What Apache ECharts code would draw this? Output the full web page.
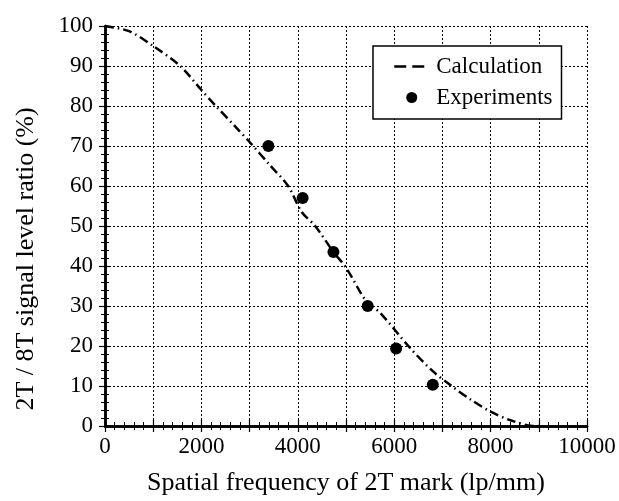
<!DOCTYPE html>
<html>
<head>
<meta charset="utf-8">
<script src="https://cdn.jsdelivr.net/npm/echarts@6/dist/echarts.min.js"></script>
<style>html,body{margin:0;padding:0;background:#fff}#c{width:619px;height:501px}</style>
</head>
<body>
<div id="c"></div>
<script>
const calcX = [0, 500, 1000, 1560, 2000, 2300, 2700, 3000, 3400, 3800, 4080, 4360, 4740, 5000, 5430, 5700, 6330, 6800, 7190, 7600, 8000, 8400, 8900, 9000];
const calcY = [100, 98.7, 95, 90, 84, 80, 74.9, 71, 65.5, 60, 53.5, 50, 43.5, 39.6, 31, 28.4, 19.5, 13.7, 10, 6.5, 3.6, 1.5, 0, 0];
const expX = [3390, 4100, 4740, 5450, 6040, 6800];
const expY = [70, 57, 43.5, 30, 19.4, 10.3];
const xTicks = [0, 2000, 4000, 6000, 8000, 10000];
const yTicks = [0, 10, 20, 30, 40, 50, 60, 70, 80, 90, 100];

const font = 'Liberation Serif';
const chart = echarts.init(document.getElementById('c'));
const frame = {show: true, lineStyle: {color: '#000', width: 2.5}};
const ticks = {show: true, inside: true, length: 6, lineStyle: {color: '#000', width: 1.2}};
const minor = {show: true, splitNumber: 5, length: 4, lineStyle: {color: '#000', width: 1}};
const grid = {show: true, lineStyle: {color: '#000', width: 1, type: [2, 2]}};
chart.setOption({
  animation: false,
  backgroundColor: '#fff',
  grid: {left: 105, right: 32, top: 26, bottom: 74},
  legend: {
    orient: 'vertical', left: 373, top: 46,
    backgroundColor: '#fff', borderColor: '#000', borderWidth: 1.5,
    padding: [8, 9, 9, 20], itemGap: 6, itemWidth: 35, itemHeight: 11,
    textStyle: {fontFamily: font, fontSize: 23, color: '#000', lineHeight: 25, padding: [0, 0, 0, 2]},
    data: [
      {name: 'Calculation', itemStyle: {opacity: 0}, lineStyle: {type: [12, 6], width: 2.5, color: '#000', opacity: 1}},
      {name: 'Experiments', icon: 'circle', itemStyle: {color: '#000', opacity: 1}}
    ]
  },
  xAxis: [{
    type: 'value', min: 0, max: 10000, interval: 1000, position: 'bottom',
    name: 'Spatial frequency of 2T mark (lp/mm)', nameLocation: 'middle', nameGap: 44,
    nameTextStyle: {fontFamily: font, fontSize: 26, color: '#000'},
    axisLine: frame, axisTick: ticks, minorTick: minor, splitLine: grid,
    axisLabel: {fontFamily: font, fontSize: 23, color: '#000', margin: 9,
      formatter: v => xTicks.includes(v) ? String(v) : ''}
  }, {
    type: 'value', min: 0, max: 10000, interval: 1000, position: 'top',
    axisLine: frame, axisTick: ticks, minorTick: minor, splitLine: {show: false},
    axisLabel: {show: false}
  }],
  yAxis: [{
    type: 'value', min: 0, max: 100, interval: 10, position: 'left',
    name: '2T / 8T signal level ratio (%)', nameLocation: 'middle', nameGap: 66,
    nameTextStyle: {fontFamily: font, fontSize: 26, color: '#000', padding: [0, 66, 0, 0]},
    axisLine: frame, axisTick: ticks, minorTick: minor, splitLine: grid,
    axisLabel: {fontFamily: font, fontSize: 23, color: '#000', margin: 12,
      formatter: v => yTicks.includes(v) ? String(v) : ''}
  }, {
    type: 'value', min: 0, max: 100, interval: 10, position: 'right',
    axisLine: frame, axisTick: ticks, minorTick: minor, splitLine: {show: false},
    axisLabel: {show: false}
  }],
  series: [{
    name: 'Calculation', type: 'line', smooth: 0.3, symbol: 'none',
    data: calcX.map((x, i) => [x, calcY[i]]),
    lineStyle: {color: '#000', width: 2.5, type: [9, 4, 1.5, 4]},
    itemStyle: {color: '#000'}, z: 3
  }, {
    name: 'Experiments', type: 'scatter', symbol: 'circle', symbolSize: 12,
    data: expX.map((x, i) => [x, expY[i]]),
    itemStyle: {color: '#000', opacity: 1}, z: 4
  }]
});
</script>
</body>
</html>
